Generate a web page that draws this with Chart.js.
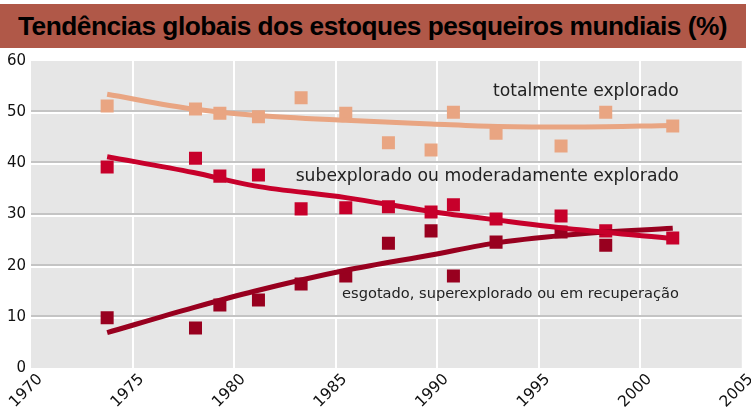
<!DOCTYPE html>
<html>
<head>
<meta charset="utf-8">
<script src="https://cdn.jsdelivr.net/npm/chart.js@4/dist/chart.umd.min.js"></script>
<style>
  html, body { margin: 0; padding: 0; background: #fff; }
  #wrap { position: relative; width: 751px; height: 409px; overflow: hidden; }
  #title-bar {
    position: absolute; left: 0; top: 4px; width: 746px; height: 44px;
    background: #b05848;
  }
  #title {
    position: absolute; left: 18px; top: 7px; white-space: nowrap;
    font-family: "Liberation Sans", Arial, sans-serif; font-weight: bold;
    font-size: 26px; color: #000; transform-origin: left top; letter-spacing: -0.5px;
  }
  canvas { position: absolute; left: 0; top: 0; }
</style>
</head>
<body>
<div id="wrap">
  <div id="title-bar"><span id="title">Tendências globais dos estoques pesqueiros mundiais (%)</span></div>
  <canvas id="chart" width="751" height="409"></canvas>
</div>
<script>
// anos das observações
const years = [1973.75, 1978.1, 1979.3, 1981.2, 1983.3, 1985.5, 1987.6, 1989.7, 1990.8, 1992.9, 1996.1, 1998.3, 2001.6];

const totalmente = [51.2, 50.6, 49.8, 49.1, 52.8, 49.8, 44.0, 42.6, 50.0, 45.9, 43.4, 50.0, 47.3];
const subexplorado = [39.3, 41.0, 37.5, 37.7, 31.1, 31.3, 31.5, 30.5, 31.9, 29.1, 29.7, 26.8, 25.4];
const esgotadoYears = [1973.75, 1978.1, 1979.3, 1981.2, 1983.3, 1985.5, 1987.6, 1989.7, 1990.8, 1992.9, 1996.1, 1998.3];
const esgotado = [9.8, 7.8, 12.3, 13.3, 16.4, 18.0, 24.4, 26.8, 18.0, 24.6, 26.6, 24.0];

// linhas de tendência
const trendYears = [1973.75, 1978, 1981, 1985.5, 1989.7, 1993, 1997, 2001.6];
const trendTotal = [53.5, 50.6, 49.4, 48.4, 47.7, 47.2, 47.1, 47.4];
const trendSub = [41.3, 38.2, 35.6, 33.3, 30.6, 28.9, 27.0, 25.3];
const trendEsg = [6.9, 11.8, 15.0, 19.1, 22.1, 24.5, 26.2, 27.3];

const xTicks = [1970, 1975, 1980, 1985, 1990, 1995, 2000, 2005];
const yTicks = [0, 10, 20, 30, 40, 50, 60];

const seriesLabels = [
  { text: 'totalmente explorado', x: 2001.9, y: 54.1, size: 17.2 },
  { text: 'subexplorado ou moderadamente explorado', x: 2001.9, y: 37.5, size: 17.2 },
  { text: 'esgotado, superexplorado ou em recuperação', x: 2001.9, y: 14.5, size: 14.6 },
];

const C_TOTAL = '#e9a582';
const C_SUB = '#c7002b';
const C_ESG = '#98001f';
const FONT = '"DejaVu Sans", Verdana, sans-serif';

// título ajustado à largura
const t = document.getElementById('title');
const tw = t.getBoundingClientRect().width;
t.style.transform = `scaleX(${709 / tw})`;

const pts = (xs, ys) => ys.map((v, i) => ({ x: xs[i], y: v }));

const gridShade = {
  id: 'gridShade',
  beforeDraw(chart) {
    const { ctx, chartArea: a, scales: { x, y } } = chart;
    ctx.save();
    ctx.fillStyle = '#e6e6e6';
    ctx.fillRect(a.left, a.top, a.right - a.left, a.bottom - a.top);
    ctx.lineWidth = 2;
    ctx.strokeStyle = '#ffffff';
    xTicks.slice(1, -1).forEach(v => {
      const px = Math.round(x.getPixelForValue(v));
      ctx.beginPath(); ctx.moveTo(px, a.top); ctx.lineTo(px, a.bottom); ctx.stroke();
    });
    yTicks.slice(1, -1).forEach(v => {
      const py = Math.round(y.getPixelForValue(v));
      ctx.strokeStyle = '#c4c4c4';
      ctx.beginPath(); ctx.moveTo(a.left, py - 1); ctx.lineTo(a.right, py - 1); ctx.stroke();
      ctx.strokeStyle = '#ffffff';
      ctx.beginPath(); ctx.moveTo(a.left, py + 1); ctx.lineTo(a.right, py + 1); ctx.stroke();
    });

    // rótulos do eixo x, rodados 45°
    ctx.fillStyle = '#111';
    ctx.font = `15.5px ${FONT}`;
    ctx.textAlign = 'right';
    ctx.textBaseline = 'middle';
    xTicks.forEach(v => {
      ctx.save();
      ctx.translate(x.getPixelForValue(v) + 9, a.bottom + 9);
      ctx.rotate(-Math.PI / 4);
      ctx.fillText(String(v), 0, 0);
      ctx.restore();
    });
    ctx.restore();
  },
  afterDatasetsDraw(chart) {
    const { ctx, scales: { x, y } } = chart;
    ctx.save();
    ctx.fillStyle = '#222';
    ctx.textAlign = 'right';
    ctx.textBaseline = 'middle';
    seriesLabels.forEach(l => {
      ctx.font = `${l.size}px ${FONT}`;
      ctx.fillText(l.text, x.getPixelForValue(l.x), y.getPixelForValue(l.y));
    });
    ctx.restore();
  }
};

const trend = (data, color) => ({
  data, showLine: true, borderColor: color, borderWidth: 5, pointRadius: 0,
  tension: 0.4, cubicInterpolationMode: 'monotone', fill: false
});
const scatter = (data, color) => ({
  data, backgroundColor: color, borderWidth: 0, pointStyle: 'rect', pointRadius: 9.2, pointHoverRadius: 9.2
});

new Chart(document.getElementById('chart'), {
  type: 'scatter',
  data: {
    datasets: [
      trend(pts(trendYears, trendTotal), C_TOTAL),
      trend(pts(trendYears, trendSub), C_SUB),
      trend(pts(trendYears, trendEsg), C_ESG),
      scatter(pts(years, totalmente), C_TOTAL),
      scatter(pts(esgotadoYears, esgotado), C_ESG),
      scatter(pts(years, subexplorado), C_SUB),
    ],
  },
  options: {
    responsive: false,
    animation: false,
    layout: { padding: { top: 61, right: 9, left: 0, bottom: 0 } },
    plugins: { legend: { display: false }, tooltip: { enabled: false } },
    scales: {
      x: {
        type: 'linear', min: 1970, max: 2005,
        afterBuildTicks: s => { s.ticks = xTicks.map(v => ({ value: v })); },
        afterFit: s => { s.height = 41; },
        grid: { display: false, drawTicks: false },
        border: { display: false },
        ticks: { display: false },
      },
      y: {
        min: 0, max: 60,
        afterBuildTicks: s => { s.ticks = yTicks.map(v => ({ value: v })); },
        afterFit: s => { s.width = 31; },
        grid: { display: false, drawTicks: false },
        border: { display: false },
        ticks: {
          color: '#111', padding: 5,
          font: { family: FONT, size: 15 },
        },
      },
    },
  },
  plugins: [gridShade],
});
</script>
</body>
</html>
